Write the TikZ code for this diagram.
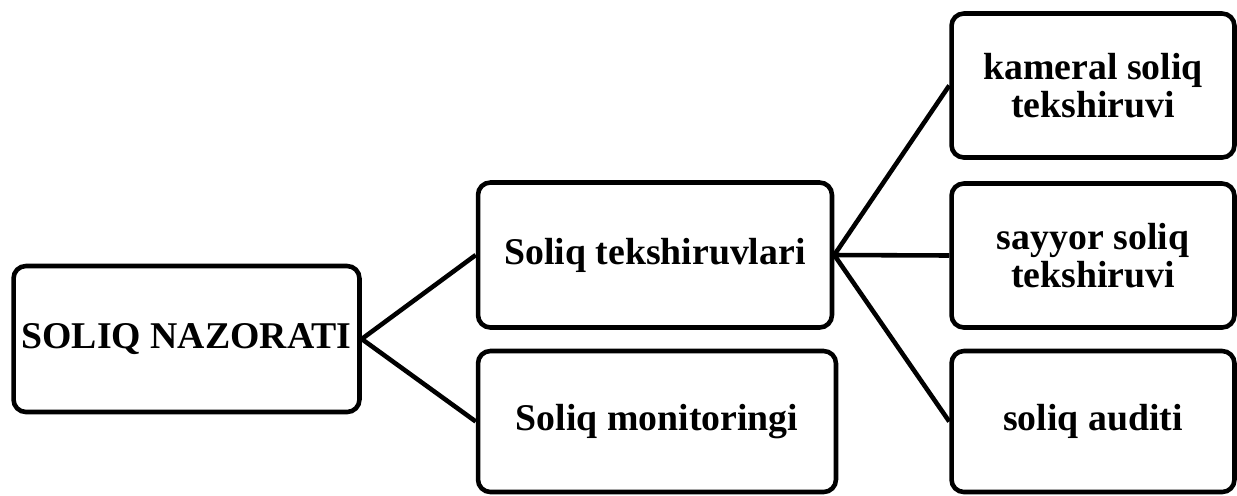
\documentclass[tikz,border=0pt]{standalone}
\usepackage{fontspec}
\setmainfont{Liberation Serif}
\usepackage{tikz}
\usetikzlibrary{positioning}

\begin{document}
\begin{tikzpicture}[
  x=0.02cm, y=-0.02cm,
  box/.style={draw, line width=2.6pt, rounded corners=7pt, align=center, inner sep=0pt,
    font=\fontsize{21.5}{22}\selectfont\bfseries},
  link/.style={line width=2.6pt}
]
\useasboundingbox (0,0) rectangle (1237,495);
% Root
\node[box, minimum width=6.92cm, minimum height=2.92cm] (nazorat) at (186.5,339) {SOLIQ NAZORATI};
% Second level
\node[box, minimum width=7.08cm, minimum height=2.9cm] (tekshiruv) at (655,255) {Soliq tekshiruvlari};
\node[box, minimum width=7.16cm, minimum height=2.82cm] (monitoring) at (657,421.5) {Soliq monitoringi};
% Third level
\node[box, minimum width=5.66cm, minimum height=2.88cm] (kameral) at (1093,85.5) {kameral soliq\\tekshiruvi};
\node[box, minimum width=5.66cm, minimum height=2.88cm] (sayyor) at (1093,255.5) {sayyor soliq\\tekshiruvi};
\node[box, minimum width=5.66cm, minimum height=2.82cm] (audit) at (1093,421.5) {soliq auditi};
% Links
\draw[link] (nazorat.east) -- (tekshiruv.west);
\draw[link] (nazorat.east) -- (monitoring.west);
\draw[link] (tekshiruv.east) -- (kameral.west);
\draw[link] (tekshiruv.east) -- (sayyor.west);
\draw[link] (tekshiruv.east) -- (audit.west);
\end{tikzpicture}
\end{document}
